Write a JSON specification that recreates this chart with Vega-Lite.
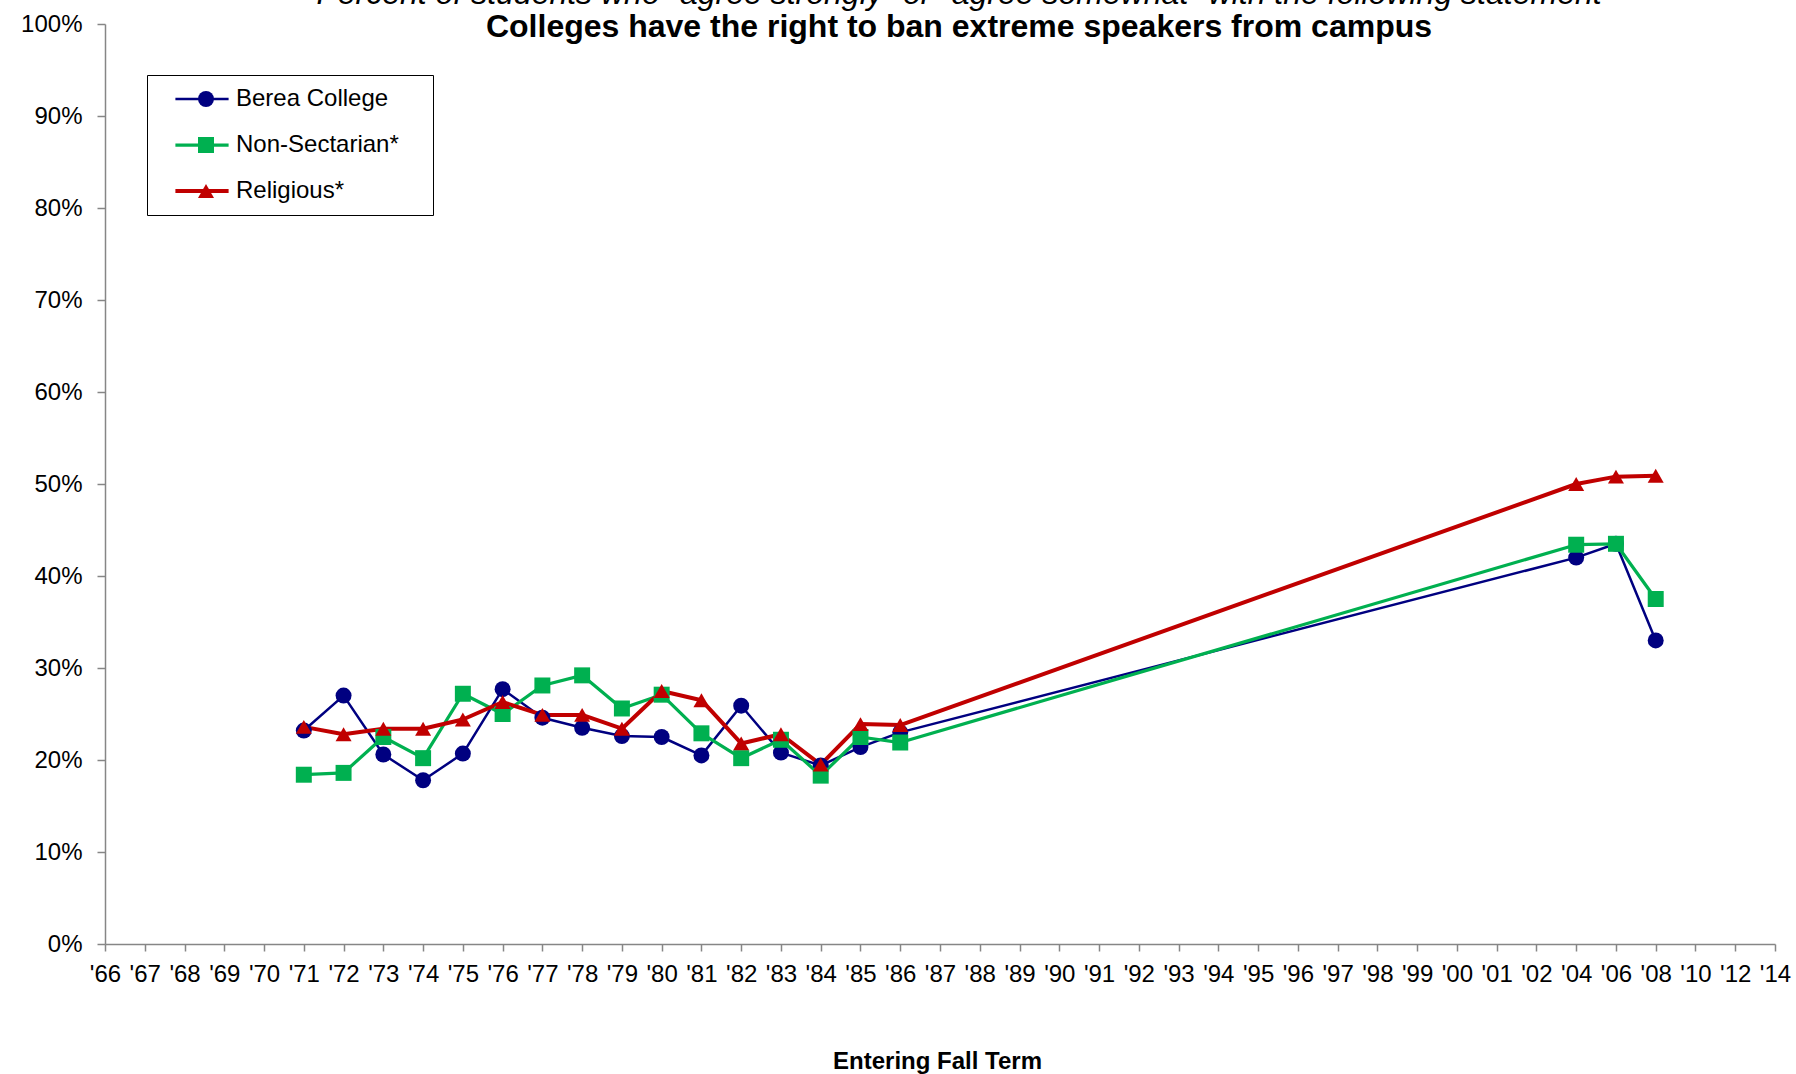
{
  "$schema": "https://vega.github.io/schema/vega-lite/v6.json",
  "autosize": {"type": "none"},
  "width": 1670,
  "height": 920,
  "padding": {"left": 105, "top": 24, "right": 21, "bottom": 130},
  "background": "white",
  "title": {
    "text": "Percent of students who \"agree strongly\" or \"agree somewhat\" with the following statement",
    "subtitle": "Colleges have the right to ban extreme speakers from campus",
    "anchor": "middle",
    "frame": "group",
    "dx": 19,
    "offset": -32,
    "font": "Liberation Sans",
    "fontSize": 32,
    "fontStyle": "italic",
    "fontWeight": "normal",
    "color": "black",
    "subtitleFont": "Liberation Sans",
    "subtitleFontSize": 32,
    "subtitleFontWeight": "bold",
    "subtitleFontStyle": "normal",
    "subtitleColor": "black",
    "subtitlePadding": 1
  },
  "data": {
    "values": [
      {"series": "Berea College", "term": "'71", "pct": 23.2},
      {"series": "Berea College", "term": "'72", "pct": 27.0},
      {"series": "Berea College", "term": "'73", "pct": 20.6},
      {"series": "Berea College", "term": "'74", "pct": 17.8},
      {"series": "Berea College", "term": "'75", "pct": 20.7},
      {"series": "Berea College", "term": "'76", "pct": 27.7},
      {"series": "Berea College", "term": "'77", "pct": 24.6},
      {"series": "Berea College", "term": "'78", "pct": 23.5},
      {"series": "Berea College", "term": "'79", "pct": 22.6},
      {"series": "Berea College", "term": "'80", "pct": 22.5},
      {"series": "Berea College", "term": "'81", "pct": 20.5},
      {"series": "Berea College", "term": "'82", "pct": 25.9},
      {"series": "Berea College", "term": "'83", "pct": 20.8},
      {"series": "Berea College", "term": "'84", "pct": 19.4},
      {"series": "Berea College", "term": "'85", "pct": 21.4},
      {"series": "Berea College", "term": "'86", "pct": 23.0},
      {"series": "Berea College", "term": "'04", "pct": 42.0},
      {"series": "Berea College", "term": "'06", "pct": 43.5},
      {"series": "Berea College", "term": "'08", "pct": 33.0},
      {"series": "Non-Sectarian*", "term": "'71", "pct": 18.4},
      {"series": "Non-Sectarian*", "term": "'72", "pct": 18.6},
      {"series": "Non-Sectarian*", "term": "'73", "pct": 22.5},
      {"series": "Non-Sectarian*", "term": "'74", "pct": 20.2},
      {"series": "Non-Sectarian*", "term": "'75", "pct": 27.2},
      {"series": "Non-Sectarian*", "term": "'76", "pct": 25.0},
      {"series": "Non-Sectarian*", "term": "'77", "pct": 28.1},
      {"series": "Non-Sectarian*", "term": "'78", "pct": 29.2},
      {"series": "Non-Sectarian*", "term": "'79", "pct": 25.6},
      {"series": "Non-Sectarian*", "term": "'80", "pct": 27.1},
      {"series": "Non-Sectarian*", "term": "'81", "pct": 22.9},
      {"series": "Non-Sectarian*", "term": "'82", "pct": 20.2},
      {"series": "Non-Sectarian*", "term": "'83", "pct": 22.2},
      {"series": "Non-Sectarian*", "term": "'84", "pct": 18.3},
      {"series": "Non-Sectarian*", "term": "'85", "pct": 22.5},
      {"series": "Non-Sectarian*", "term": "'86", "pct": 21.9},
      {"series": "Non-Sectarian*", "term": "'04", "pct": 43.4},
      {"series": "Non-Sectarian*", "term": "'06", "pct": 43.5},
      {"series": "Non-Sectarian*", "term": "'08", "pct": 37.5},
      {"series": "Religious*", "term": "'71", "pct": 23.6},
      {"series": "Religious*", "term": "'72", "pct": 22.8},
      {"series": "Religious*", "term": "'73", "pct": 23.4},
      {"series": "Religious*", "term": "'74", "pct": 23.4},
      {"series": "Religious*", "term": "'75", "pct": 24.4},
      {"series": "Religious*", "term": "'76", "pct": 26.3},
      {"series": "Religious*", "term": "'77", "pct": 24.9},
      {"series": "Religious*", "term": "'78", "pct": 24.9},
      {"series": "Religious*", "term": "'79", "pct": 23.4},
      {"series": "Religious*", "term": "'80", "pct": 27.5},
      {"series": "Religious*", "term": "'81", "pct": 26.5},
      {"series": "Religious*", "term": "'82", "pct": 21.8},
      {"series": "Religious*", "term": "'83", "pct": 22.8},
      {"series": "Religious*", "term": "'84", "pct": 19.5},
      {"series": "Religious*", "term": "'85", "pct": 23.9},
      {"series": "Religious*", "term": "'86", "pct": 23.8},
      {"series": "Religious*", "term": "'04", "pct": 50.0},
      {"series": "Religious*", "term": "'06", "pct": 50.8},
      {"series": "Religious*", "term": "'08", "pct": 50.9}
    ]
  },
  "encoding": {
    "x": {
      "field": "term",
      "type": "ordinal",
      "sort": null,
      "scale": {
        "type": "point",
        "padding": 0,
        "domain": ["'66","'67","'68","'69","'70","'71","'72","'73","'74","'75","'76","'77","'78","'79","'80","'81","'82","'83","'84","'85","'86","'87","'88","'89","'90","'91","'92","'93","'94","'95","'96","'97","'98","'99","'00","'01","'02","'04","'06","'08","'10","'12","'14"]
      },
      "axis": {
        "title": "Entering Fall Term",
        "titleFont": "Liberation Sans",
        "titleFontSize": 24,
        "titleFontWeight": "bold",
        "titleColor": "black",
        "titleX": 832,
        "titleY": 124,
        "titleBaseline": "alphabetic",
        "labelAngle": 0,
        "labelOverlap": false,
        "labelFlush": false,
        "labelPadding": 11,
        "tickSize": 7
      }
    },
    "y": {
      "field": "pct",
      "type": "quantitative",
      "scale": {"domain": [0, 100], "nice": false},
      "axis": {
        "title": null,
        "values": [0, 10, 20, 30, 40, 50, 60, 70, 80, 90, 100],
        "labelExpr": "datum.value + '%'",
        "labelPadding": 15,
        "tickSize": 8
      }
    }
  },
  "layer": [
    {
      "mark": {"type": "line", "strokeJoin": "round"},
      "encoding": {
        "stroke": {
          "field": "series",
          "type": "nominal",
          "scale": {"range": ["#000080", "#00B050", "#C00000"]},
          "legend": {
            "title": null,
            "orient": "none",
            "legendX": 42,
            "legendY": 51,
            "padding": 12,
            "strokeColor": "black",
            "labelFont": "Liberation Sans",
            "labelFontSize": 24,
            "labelOpacity": 0,
            "labelExpr": "' '",
            "symbolType": "M-3.8,0L3.8,0",
            "symbolSize": 196,
            "symbolOffset": 31,
            "labelOffset": 207,
            "rowPadding": 22
          }
        },
        "strokeWidth": {
          "field": "series",
          "type": "nominal",
          "scale": {"range": [2.5, 4, 4]},
          "legend": {
            "title": null,
            "orient": "none",
            "legendX": 42,
            "legendY": 51,
            "padding": 12,
            "strokeColor": "black",
            "labelFont": "Liberation Sans",
            "labelFontSize": 24,
            "labelOpacity": 0,
            "labelExpr": "' '",
            "symbolType": "M-3.8,0L3.8,0",
            "symbolSize": 196,
            "symbolOffset": 31,
            "labelOffset": 207,
            "rowPadding": 22
          }
        }
      }
    },
    {
      "mark": {"type": "point", "filled": true, "opacity": 1},
      "encoding": {
        "color": {
          "field": "series",
          "type": "nominal",
          "scale": {"domain": ["Berea College", "Non-Sectarian*", "Religious*"], "range": ["#000080", "#00B050", "#C00000"]},
          "legend": {
            "title": null,
            "orient": "none",
            "legendX": 42,
            "legendY": 51,
            "padding": 12,
            "labelFont": "Liberation Sans",
            "labelFontSize": 24,
            "labelColor": "black",
            "labelLimit": 400,
            "symbolSize": 160,
            "symbolOffset": 35,
            "labelOffset": 18,
            "rowPadding": 22,
            "symbolOpacity": 1
          }
        },
        "shape": {
          "field": "series",
          "type": "nominal",
          "scale": {"domain": ["Berea College", "Non-Sectarian*", "Religious*"], "range": ["circle", "square", "triangle-up"]},
          "legend": {
            "title": null,
            "orient": "none",
            "legendX": 42,
            "legendY": 51,
            "padding": 12,
            "labelFont": "Liberation Sans",
            "labelFontSize": 24,
            "labelColor": "black",
            "labelLimit": 400,
            "symbolSize": 160,
            "symbolOffset": 35,
            "labelOffset": 18,
            "rowPadding": 22,
            "symbolOpacity": 1
          }
        },
        "size": {
          "field": "series",
          "type": "nominal",
          "scale": {"domain": ["Berea College", "Non-Sectarian*", "Religious*"], "range": [255, 256, 290]},
          "legend": null
        }
      }
    }
  ],
  "config": {
    "view": {"stroke": null},
    "axis": {
      "labelFont": "Liberation Sans",
      "labelFontSize": 24,
      "labelColor": "black",
      "domainColor": "#868686",
      "tickColor": "#868686",
      "domainWidth": 1.5,
      "tickWidth": 1.5,
      "grid": false
    }
  }
}
